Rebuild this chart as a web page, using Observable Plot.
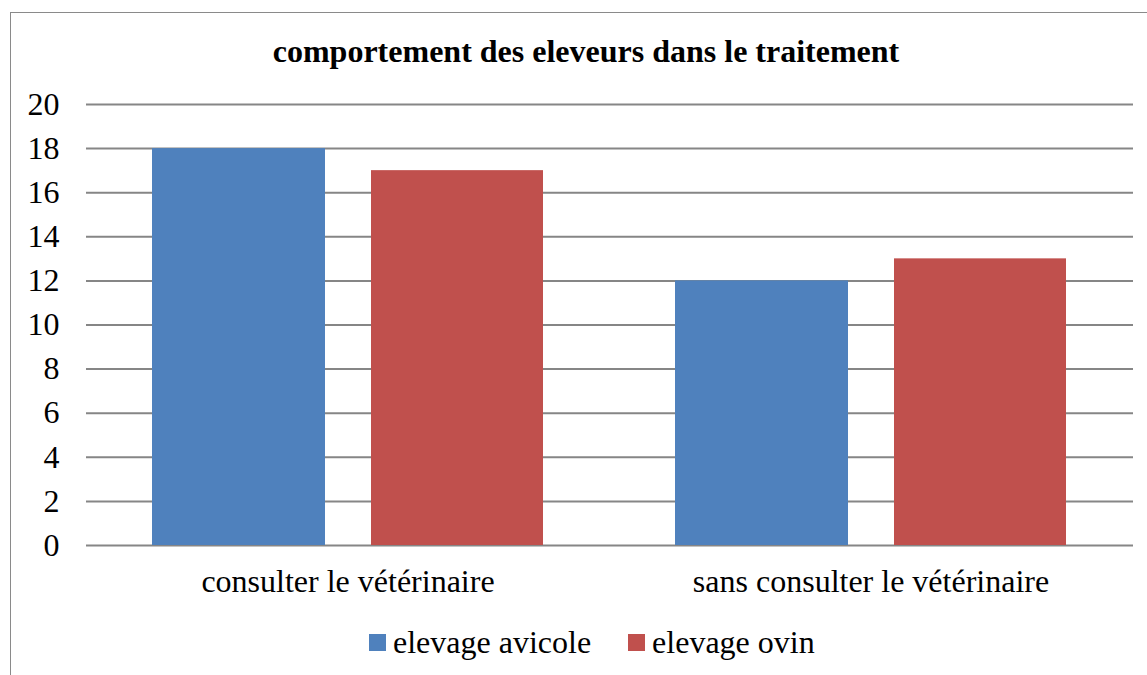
<!DOCTYPE html>
<html>
<head>
<meta charset="utf-8">
<script src="https://cdn.jsdelivr.net/npm/d3@7"></script>
<script src="https://cdn.jsdelivr.net/npm/@observablehq/plot@0.6"></script>
<style>
  html, body { margin: 0; padding: 0; background: #fff; }
  #wrap { position: relative; width: 1147px; height: 675px; overflow: hidden; font-family: "Liberation Serif", "Times New Roman", serif; }
  #frame { position: absolute; left: 10px; top: 12px; width: 1300px; height: 800px; border-left: 1px solid #8a8a8a; border-top: 1px solid #8a8a8a; }
  #title { position: absolute; left: 0; top: 35px; width: 1172px; text-align: center; font-weight: bold; font-size: 32px; line-height: 32px; color: #000; white-space: nowrap; font-family: "Liberation Serif", serif; }
  #chart { position: absolute; left: 0; top: 0; }
  #chart svg, #chart svg text { font-family: "Liberation Serif", serif !important; }
  #legend { position: absolute; left: 369px; top: 626px; display: flex; align-items: center; font-size: 32px; line-height: 32px; white-space: nowrap; font-family: "Liberation Serif", serif; }
  .sw { display: inline-block; width: 17px; height: 17px; margin-right: 7px; }
  .item { display: flex; align-items: center; margin-right: 37px; }
</style>
</head>
<body>
<div id="wrap">
  <div id="frame"></div>
  <div id="chart"></div>
  <div id="title"></div>
  <div id="legend"></div>
</div>
<script>
const titleText = "comportement des eleveurs dans le traitement";
const categories = ["consulter le vétérinaire", "sans consulter le vétérinaire"];
const series = ["elevage avicole", "elevage ovin"];
const avicole = [18, 12];
const ovin = [17, 13];
const yTicks = [0, 2, 4, 6, 8, 10, 12, 14, 16, 18, 20];
const colors = ["#4F81BD", "#C0504D"];

const rows = [];
categories.forEach((c, i) => {
  rows.push({category: c, series: series[0], value: avicole[i]});
  rows.push({category: c, series: series[1], value: ovin[i]});
});

const font = "Liberation Serif";

const chart = Plot.plot({
  width: 1147,
  height: 675,
  marginTop: 104,
  marginBottom: 130,
  marginLeft: 86,
  marginRight: 14,
  style: {fontFamily: font, fontSize: "32px", color: "#000", background: "transparent"},
  x: {domain: categories, paddingInner: 0.252, paddingOuter: 0.126, label: null},
  y: {domain: [0, 20], label: null},
  color: {domain: series, range: colors},
  marks: [
    Plot.ruleY(yTicks, {stroke: "#868686", strokeWidth: 2}),
    Plot.barY(rows.filter(d => d.series === series[0]), {x: "category", y: "value", fill: "series", insetRight: 218}),
    Plot.barY(rows.filter(d => d.series === series[1]), {x: "category", y: "value", fill: "series", insetLeft: 219}),
    Plot.axisY({ticks: yTicks, tickSize: 0, tickPadding: 27, fontSize: 32, fontFamily: font, label: null}),
    Plot.axisX({tickSize: 0, tickPadding: 24, fontSize: 32, fontFamily: font, label: null})
  ]
});
document.getElementById("chart").appendChild(chart);

document.getElementById("title").textContent = titleText;

const legend = document.getElementById("legend");
series.forEach((s, i) => {
  const item = document.createElement("div");
  item.className = "item";
  const sw = document.createElement("span");
  sw.className = "sw";
  sw.style.background = colors[i];
  const t = document.createElement("span");
  t.textContent = s;
  item.appendChild(sw);
  item.appendChild(t);
  legend.appendChild(item);
});
</script>
</body>
</html>
